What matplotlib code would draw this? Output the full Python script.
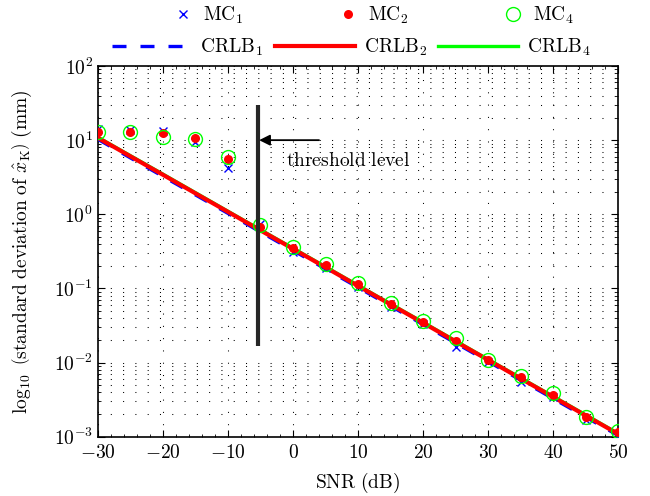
import matplotlib
matplotlib.use("Agg")
import matplotlib.pyplot as plt
from matplotlib.ticker import FixedLocator, MultipleLocator, NullFormatter

plt.rcParams["mathtext.fontset"] = "cm"
plt.rcParams["font.family"] = ["DejaVu Serif"]
plt.rcParams["lines.scale_dashes"] = True

# ---- data -------------------------------------------------------------
snr = [-30, -25, -20, -15, -10, -5, 0, 5, 10, 15, 20, 25, 30, 35, 40, 45, 50]

mc1 = [14.0, 13.7, 13.4, 9.5, 4.25, 0.73, 0.313, 0.187, 0.105, 0.056, 0.033,
       0.0164, 0.0103, 0.0055, 0.0034, 0.0017, 0.00101]
mc2 = [12.8, 12.8, 12.4, 10.8, 5.6, 0.667, 0.348, 0.205, 0.1135, 0.061, 0.0356,
       0.0197, 0.0108, 0.00645, 0.00366, 0.00186, 0.00116]
mc4 = [12.8, 12.8, 11.1, 10.4, 5.9, 0.716, 0.366, 0.213, 0.117, 0.0636, 0.036,
       0.0212, 0.0108, 0.0066, 0.00385, 0.00186, 0.00118]

crlb1 = [10.3, 5.78, 3.25, 1.83, 1.03, 0.578, 0.325, 0.183, 0.103, 0.0578,
         0.0325, 0.0183, 0.0103, 0.00578, 0.00325, 0.00183, 0.00103]
crlb2 = [10.8, 6.07, 3.42, 1.92, 1.08, 0.607, 0.342, 0.192, 0.108, 0.0607,
         0.0342, 0.0192, 0.0108, 0.00607, 0.00342, 0.00192, 0.00108]
crlb4 = [11.0, 6.19, 3.49, 1.96, 1.10, 0.619, 0.349, 0.196, 0.110, 0.0619,
         0.0349, 0.0196, 0.0110, 0.00619, 0.00349, 0.00196, 0.00110]

threshold_snr = -5.4
threshold_span = [0.0165, 30.0]
arrow_from = (4.0, 10.0)
arrow_to = (-5.2, 10.0)
note_pos = (-1.0, 4.5)

x_ticks = [-30, -20, -10, 0, 10, 20, 30, 40, 50]
x_ticklabels = [r"$-30$", r"$-20$", r"$-10$", r"$0$", r"$10$", r"$20$",
                r"$30$", r"$40$", r"$50$"]
y_ticks = [1e-3, 1e-2, 1e-1, 1e0, 1e1, 1e2]
y_ticklabels = [r"$10^{-3}$", r"$10^{-2}$", r"$10^{-1}$", r"$10^{0}$",
                r"$10^{1}$", r"$10^{2}$"]

# ---- figure -----------------------------------------------------------
fig = plt.figure(figsize=(6.5, 4.96), dpi=100)
ax = fig.add_axes([0.1503, 0.1196, 0.9515 - 0.1503, 0.8669 - 0.1196])

ax.set_yscale("log")
ax.set_xlim(-30, 50)
ax.set_ylim(1e-3, 1e2)

# dotted grid, major + minor horizontally, major only vertically
dot = (0, (1.0, 10.8))
ax.yaxis.set_minor_locator(FixedLocator(
    [m * 10.0 ** e for e in range(-3, 2) for m in range(2, 10)]))
ax.yaxis.set_minor_formatter(NullFormatter())
ax.grid(True, which="major", axis="both", color="k", lw=0.75, linestyle=dot)
ax.grid(True, which="minor", axis="y", color="k", lw=0.75, linestyle=dot)
ax.xaxis.set_minor_locator(MultipleLocator(2))

# bounds
l_c1, = ax.plot(snr, crlb1, color="#0000ff", lw=2.4, linestyle=(0, (4.2, 4.2)),
                zorder=3, label=r"$\mathrm{CRLB}_1$")
l_c4, = ax.plot(snr, crlb4, color="#00ff00", lw=2.4, zorder=3.1,
                label=r"$\mathrm{CRLB}_4$")
l_c2, = ax.plot(snr, crlb2, color="#ff0000", lw=3.0, zorder=3.2,
                label=r"$\mathrm{CRLB}_2$")

# Monte Carlo estimates
m1, = ax.plot(snr, mc1, linestyle="none", marker="x", color="#0000ff",
              markersize=5.5, mew=1.0, zorder=4, label=r"$\mathrm{MC}_1$")
m2, = ax.plot(snr, mc2, linestyle="none", marker="o", color="#ff0000",
              markersize=6.5, mew=0, zorder=5, label=r"$\mathrm{MC}_2$")
m4, = ax.plot(snr, mc4, linestyle="none", marker="o", mfc="none",
              mec="#00ff00", markersize=10, mew=1.0, zorder=6,
              label=r"$\mathrm{MC}_4$")

# threshold marker
ax.plot([threshold_snr, threshold_snr], threshold_span, color="0.15", lw=3.0,
        zorder=7, solid_capstyle="butt")
ax.annotate("", xy=arrow_to, xytext=arrow_from,
            arrowprops=dict(arrowstyle="-|>", color="k", lw=1.3,
                            mutation_scale=16, shrinkA=0, shrinkB=0),
            zorder=8)
ax.text(note_pos[0], note_pos[1], r"$\mathrm{threshold\ level}$",
        fontsize=14, va="baseline", ha="left")

# ticks
ax.set_xticks(x_ticks)
ax.set_xticklabels(x_ticklabels, fontsize=14)
ax.set_yticks(y_ticks)
ax.set_yticklabels(y_ticklabels, fontsize=14)
ax.tick_params(which="both", direction="in", top=True, right=True)
ax.tick_params(which="major", length=5, width=0.8)
ax.tick_params(which="minor", length=2.5, width=0.6)
ax.tick_params(axis="x", pad=5)
for sp in ax.spines.values():
    sp.set_linewidth(1.2)

ax.set_xlabel(r"$\mathrm{SNR\ (dB)}$", fontsize=14, labelpad=7)
ax.set_ylabel(r"$\log_{10}\ \left(\mathrm{standard\ deviation\ of\ }"
              r"\hat{x}_{\mathrm{K}}\right)\ (\mathrm{mm})$",
              fontsize=14, labelpad=14)

# two legend rows above the axes
leg_mc = fig.legend(handles=[m1, m2, m4], ncol=3, frameon=False, fontsize=14,
                    loc="center left", bbox_to_anchor=(173 / 650, 1 - 15 / 496),
                    handlelength=1.0, handletextpad=0.55, columnspacing=4.85,
                    borderpad=0, borderaxespad=0)
leg_cr = fig.legend(handles=[l_c1, l_c2, l_c4], ncol=3, frameon=False,
                    fontsize=14, loc="center left",
                    bbox_to_anchor=(112 / 650, 1 - 47 / 496),
                    handlelength=4.1, handletextpad=0.45, columnspacing=0.6,
                    borderpad=0, borderaxespad=0)

fig.savefig("out.png", dpi=100)
